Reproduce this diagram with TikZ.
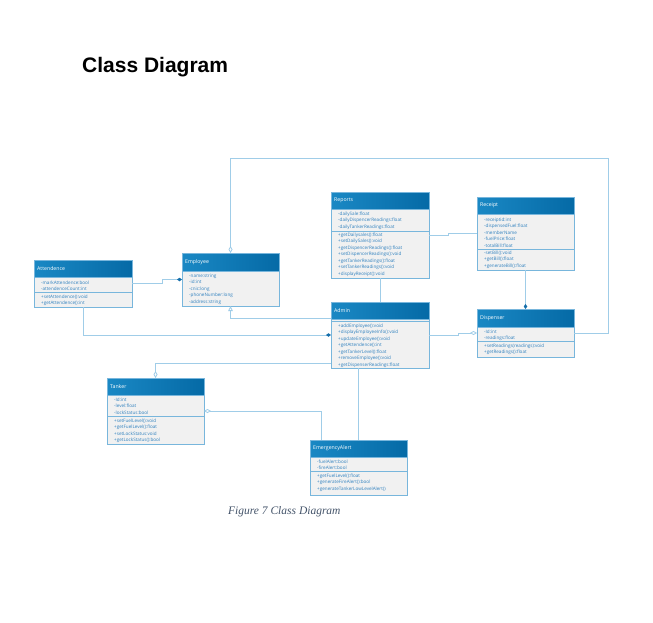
\documentclass[tikz,border=0pt]{standalone}
\usepackage{fontspec}
\setmainfont{Liberation Serif}
\newfontfamily\umlfont{Open Sans}
\newfontfamily\titlefont{Liberation Sans}
\usetikzlibrary{arrows.meta,calc}

\definecolor{hdrL}{RGB}{26,136,196}
\definecolor{hdrR}{RGB}{5,106,166}
\definecolor{boxedge}{RGB}{120,182,220}
\definecolor{bodybg}{RGB}{241,241,241}
\definecolor{membertext}{RGB}{46,128,190}
\definecolor{wire}{RGB}{160,205,232}
\definecolor{wiretip}{RGB}{20,110,170}
\definecolor{captiongray}{RGB}{68,84,106}

% class box: name, x1, y1, x2, y2, header bottom, title
\newcommand\umlclass[7]{%
  \node[classbox, minimum width={#4-#2}, minimum height={#5-#3}] (#1) at ({(#2+#4)/2},{(#3+#5)/2}) {};
  \shade[left color=hdrL, right color=hdrR] (#2,#3) rectangle (#4,#6);
  \draw[boxedge, line width=0.8pt] (#2,#3) rectangle (#4,#5);
  \draw[sepline] (#2,#6) -- (#4,#6);
  \node[headtext] at ({#2+3},{(#3+#6)/2}) {#7};
}
% member list: x, top y, lines
\newcommand\members[3]{\node[memberlist] at (#1,{#2+1}) {#3};}
% compartment divider: x1, x2, y
\newcommand\divider[3]{\draw[sepline] (#1,#3) -- (#2,#3);}

\begin{document}
\begin{tikzpicture}[x=1pt,y=-1pt,
  classbox/.style={draw=boxedge, fill=bodybg, line width=0.8pt, inner sep=0pt, outer sep=0pt},
  sepline/.style={draw=boxedge, line width=0.6pt},
  headtext/.style={anchor=west, inner sep=0pt, text=white, font=\umlfont\fontsize{5.2}{6}\selectfont},
  memberlist/.style={anchor=north west, inner sep=0pt, align=left, text=membertext,
    font=\umlfont\fontsize{4.6}{6.5}\selectfont},
  wire/.style={draw=wire, line width=0.8pt},
  odia/.tip={Diamond[open, length=7pt, width=4pt, color=wire, fill=white]},
  fdia/.tip={Diamond[length=5pt, width=3.5pt, color=wiretip]},
  otri/.tip={Triangle[open, length=5pt, width=4.5pt, color=wire, fill=white]},
]
\fill[white] (0,0) rectangle (653,623);
\useasboundingbox (0,0) rectangle (653,623);

\node[anchor=base west, inner sep=0pt, font=\titlefont\bfseries\fontsize{21}{25}\selectfont] (title) at (82,73) {Class Diagram};

% ---------- classes ----------
\umlclass{attend}{34}{260}{132}{307}{277}{Attendence}
\members{41}{279.5}{-markAttendence:bool\\-attendenceCount:int}
\divider{34}{132}{292}
\members{41}{293.5}{+setAttendence():void\\+getAttendence():int}

\umlclass{employee}{182}{253}{279}{306}{271}{Employee}
\members{189}{272.5}{-name:string\\-id:int\\-cnic:long\\-phoneNumber:long\\-address:string}

\umlclass{reports}{331}{192}{429}{278}{209}{Reports}
\members{338}{210.5}{-dailySale:float\\-dailyDispencerReadings:float\\-dailyTankerReadings:float}
\divider{331}{429}{231}
\members{338}{231.5}{+getDailysales():float\\+setDailySales():void\\+getDispencerReadings():float\\+setDispencerReadings():void\\+getTankerReadings():float\\+setTankerReadings():void\\+displayReceipt():void}

\umlclass{receipt}{477}{197}{574}{270}{214}{Receipt}
\members{484}{216.5}{-receiptid:int\\-dispensedFuel:float\\-memberName\\-fuelPrice:float\\-totalBill:float}
\divider{477}{574}{249}
\members{484}{249.5}{-setBill():void\\+getBill():float\\+generateBill():float}

\umlclass{admin}{331}{302}{429}{368}{319}{Admin}
\divider{331}{429}{321}
\members{338}{322.5}{+addEmployee():void\\+displayEmployeeInfo():void\\+updateEmployee():void\\+getAttendence():int\\+getTankerLevel():float\\+removeEmployee():void\\+getDispenserReadings:float}

\umlclass{dispenser}{477}{309}{574}{357}{327}{Dispenser}
\members{484}{328.5}{-Id:int\\-readings:float}
\divider{477}{574}{341}
\members{484}{342.5}{+setReadings(readings):void\\+getReadings():float}

\umlclass{tanker}{107}{378}{204}{444}{395}{Tanker}
\members{114}{396.5}{-Id:int\\-level:float\\-lockStatus:bool}
\divider{107}{204}{416}
\members{114}{417.5}{+setFuelLevel():void\\+getFuelLevel():float\\+setLockStatus:void\\+getLockStatus():bool}

\umlclass{ealert}{310}{440}{407}{495}{457}{EmergencyAlert}
\members{317}{458.5}{-fuelAlert:bool\\-fireAlert:bool}
\divider{310}{407}{471}
\members{317}{472.5}{+getFuelLevel():float\\+generateFireAlert():bool\\+generateTankerLowLevelAlert()}

% ---------- connectors ----------
\draw[wire, odia-] (employee.north) -- ++(0,-95) -| ($(dispenser.east)+(34,0)$) -- (dispenser.east);
\draw[wire, -fdia] (attend.east) -- ++(30,0) |- (employee.west);
\draw[wire, -fdia] (attend.south) |- (admin.west);
\draw[wire, otri-] (employee.south) |- ($(admin.north west)+(0,16)$);
\draw[wire] (reports.south) -- (admin.north);
\draw[wire] (reports.east) -- ++(19,0) |- (receipt.west);
\draw[wire, -fdia] (receipt.south) -- (dispenser.north);
\draw[wire, -odia] (admin.east) -- ++(29,0) |- (dispenser.west);
\draw[wire, -odia] ($(admin.south west)+(0,-5)$) -| (tanker.north);
\draw[wire, odia-] (tanker.east) -| ($(ealert.north west)+(11,0)$);
\draw[wire] (admin.south -| ealert.north) -- (ealert.north);

\node[anchor=base west, inner sep=0pt, text=captiongray, font=\itshape\fontsize{11.5}{14}\selectfont] (caption) at (228,514) {Figure 7 Class Diagram};
\end{tikzpicture}
\end{document}
